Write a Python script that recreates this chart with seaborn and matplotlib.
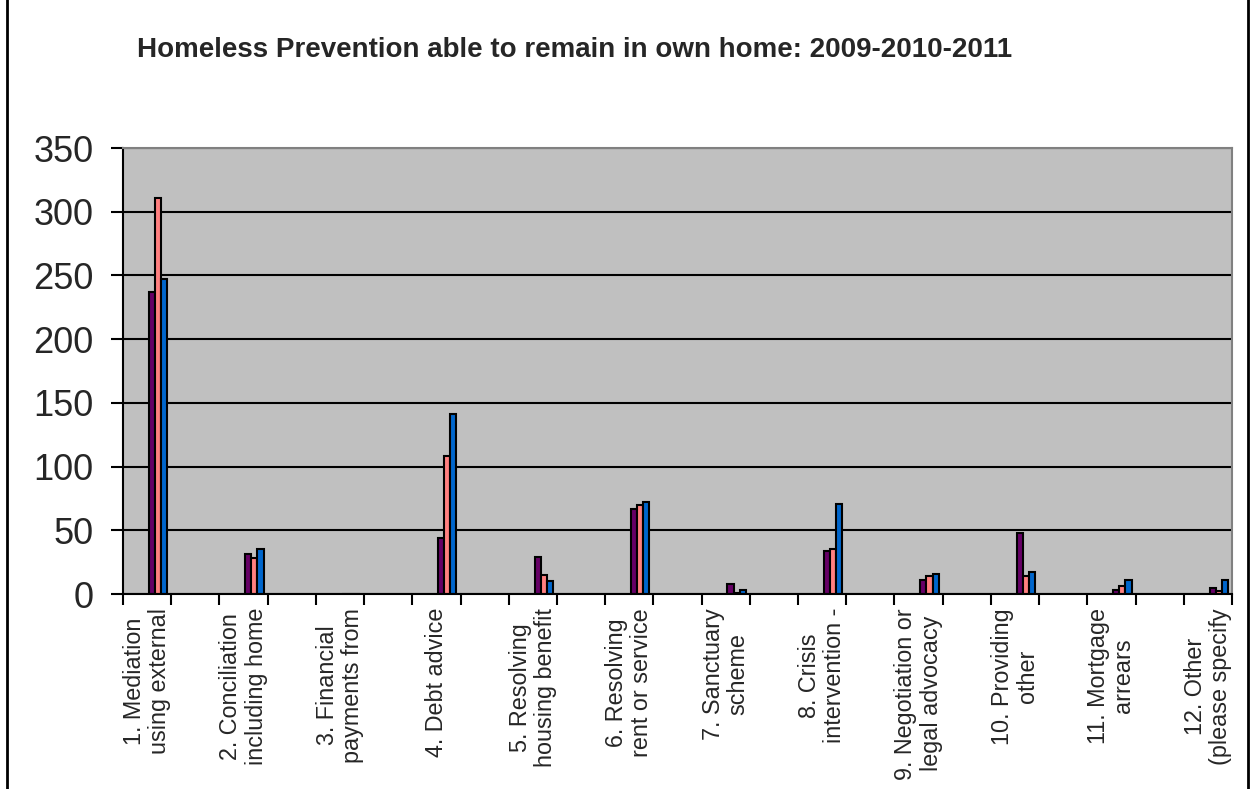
import numpy as np
import pandas as pd
import matplotlib
matplotlib.use("Agg")
import matplotlib.pyplot as plt
import seaborn as sns
from matplotlib.ticker import MultipleLocator
from matplotlib.patches import Rectangle

categories = [
    "1. Mediation\nusing external",
    "2. Conciliation\nincluding home",
    "3. Financial\npayments from",
    "4. Debt advice",
    "5. Resolving\nhousing benefit",
    "6. Resolving\nrent or service",
    "7. Sanctuary\nscheme",
    "8. Crisis\nintervention -",
    "9. Negotiation or\nlegal advocacy",
    "10. Providing\nother",
    "11. Mortgage\narrears",
    "12. Other\n(please specify",
]
series_names = ["2009", "2010", "2011"]
values_2009 = [237, 31, 0, 44, 29, 67, 8, 34, 11, 48, 3, 5]
values_2010 = [311, 28, 0, 108, 15, 70, 1, 35, 14, 14, 6, 2]
values_2011 = [247, 35, 0, 141, 10, 72, 3, 71, 16, 17, 11, 11]
colors = ["#660066", "#FF8080", "#0066CC"]
y_ticks = [0, 50, 100, 150, 200, 250, 300, 350]
title = "Homeless Prevention able to remain in own home: 2009-2010-2011"

df = pd.DataFrame({
    "category": categories * 3,
    "year": [s for s in series_names for _ in categories],
    "value": values_2009 + values_2010 + values_2011,
})

sns.set_theme(style="white")
plt.rcParams["font.family"] = ["Liberation Sans", "DejaVu Sans"]

W, H = 1253, 789
fig = plt.figure(figsize=(W / 100, H / 100), dpi=100)
fig.patch.set_facecolor("white")
ax = fig.add_axes([123 / W, 1 - 594 / H, (1232 - 123) / W, (594 - 148) / H])

sns.barplot(data=df, x="category", y="value", hue="year", order=categories,
            hue_order=series_names, palette=colors, width=0.19, dodge=True,
            edgecolor="black", linewidth=1.5, errorbar=None, legend=False,
            saturation=1, ax=ax)

ax.set_facecolor("#C0C0C0")
ax.set_ylim(0, 350)
ax.set_yticks(y_ticks)
ax.yaxis.grid(True, color="black", linewidth=1.5)
ax.xaxis.grid(False)
ax.set_axisbelow(True)

lab_off = 0.114
left = -0.363
ax.set_xlim(left, left + 11.5)
ax.set_xticks(np.arange(len(categories)) - lab_off)
ax.set_xticklabels(categories, rotation=90, ha="center", va="top",
                   multialignment="center", fontsize=16.8, linespacing=1.12)
ax.xaxis.set_minor_locator(MultipleLocator(0.5, offset=left % 0.5))
ax.tick_params(axis="x", which="major", length=0, pad=10)
ax.tick_params(axis="x", which="minor", length=8, width=1.5, color="black",
               direction="out", bottom=True)
ax.tick_params(axis="y", which="major", length=9, width=1.5, color="black",
               direction="out", pad=12, labelsize=26, left=True)
ax.set_xlabel("")
ax.set_ylabel("")

for side in ["left", "bottom"]:
    ax.spines[side].set_color("black")
    ax.spines[side].set_linewidth(1.5)
for side in ["top", "right"]:
    ax.spines[side].set_color("#808080")
    ax.spines[side].set_linewidth(1.5)

fig.text(575 / W, 1 - 50 / H, title, ha="center", va="center",
         fontsize=20, fontweight="bold")

fig.add_artist(Rectangle((7 / W, -0.01), (1248 - 7) / W, 1.02,
                         transform=fig.transFigure, fill=False,
                         edgecolor="black", linewidth=2))

fig.savefig("out.png", dpi=100)
